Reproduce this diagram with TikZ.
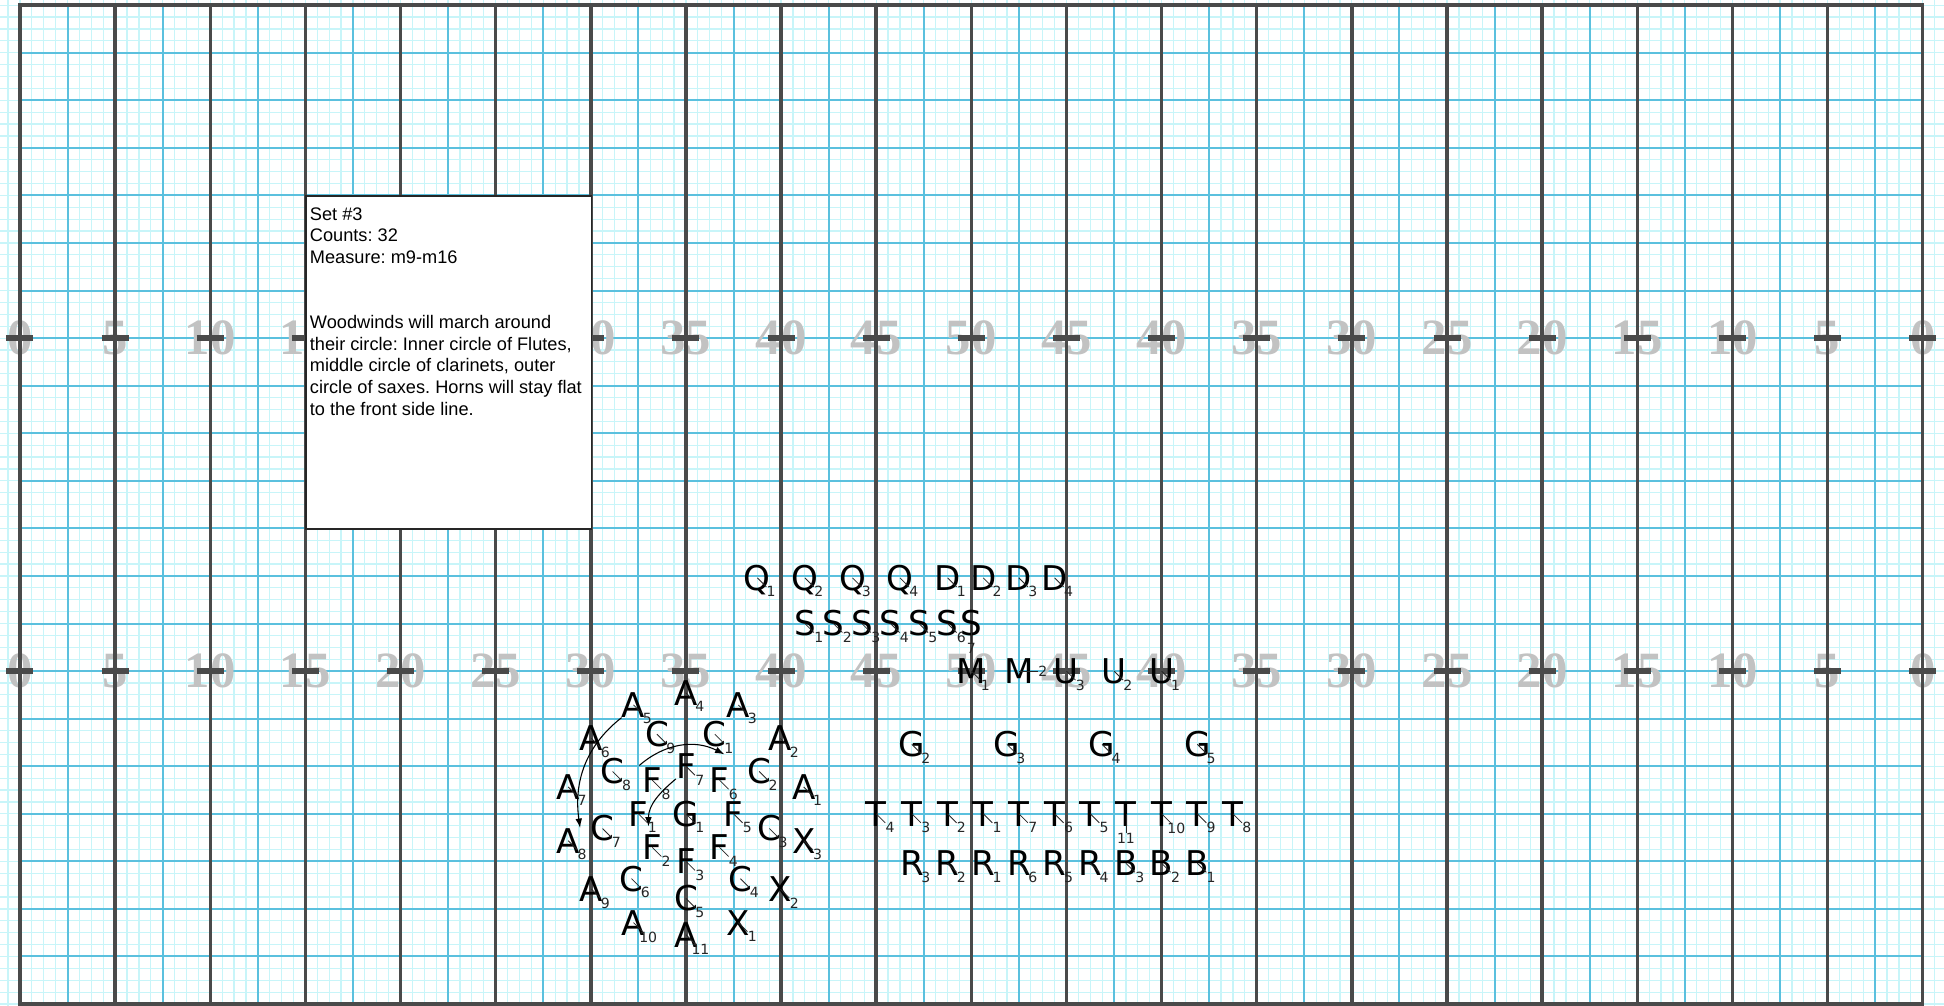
\documentclass[tikz,border=0pt]{standalone}
\usepackage{fontspec}
\usetikzlibrary{arrows.meta, calc}
\newfontfamily\mkfont{DejaVu Sans}
\newfontfamily\notefont{Liberation Sans}
\newfontfamily\numfont{Liberation Serif}
\definecolor{gridLight}{HTML}{C8F5F9}
\definecolor{gridBlue}{HTML}{5BC0DE}
\definecolor{fieldDark}{HTML}{4A4A4A}
\definecolor{numGray}{HTML}{C2C2C2}

\newcommand{\plr}[5][-45]{%
  \node[mk] (#2) at (#5) {#3};
  \pgfmathsetmacro\subang{#1+180}%
  \pgfmathsetmacro\facelen{1-0.33*abs(sin(2*(#1)))}%
  \draw[face] (#2.center) -- ++(#1:\facelen) node[sub, anchor=\subang] {#4};%
}

\begin{document}
\begin{tikzpicture}[x=0.5cm, y=0.5cm,
  minor/.style={gridLight, line width=0.9pt},
  major/.style={gridBlue, line width=1.5pt},
  yard/.style={fieldDark, line width=2.6pt},
  hash/.style={fieldDark, line width=4.8pt},
  num/.style={font=\numfont\bfseries\fontsize{38pt}{38pt}\selectfont, text=numGray, inner sep=0pt},
  mk/.style={font=\mkfont\fontsize{25.5pt}{25.5pt}\selectfont, inner sep=0pt, text height=18.6pt, text depth=0pt},
  sub/.style={font=\mkfont\fontsize{10.5pt}{10.5pt}\selectfont, inner sep=0pt},
  face/.style={black!85, line width=0.6pt},
  march/.style={-{Latex[length=7pt, width=5pt]}, black, line width=0.8pt},
  notebox/.style={draw=black!85, line width=1.1pt, fill=white,
                  minimum width=7.5cm, minimum height=8.75cm, inner sep=0pt},
  notetext/.style={font=\notefont\fontsize{13.6pt}{16.2pt}\selectfont\frenchspacing,
                   align=left, inner xsep=3.2pt, inner ysep=8.7pt}
]
\useasboundingbox (-1.05,-0.09) rectangle (101.12,52.77);
\fill[white] (-1.05,-0.09) rectangle (101.12,52.77);
\draw[minor] (-1.05,-0.09) grid[step=0.3125cm] (101.12,52.77);
\draw[major] (0,0) grid[step=1.25cm] (100,52.5);
\foreach \x in {0,5,...,100} {
  \pgfmathtruncatemacro\lbl{min(\x,100-\x)}
  \node[num] (top\x) at (\x,35) {\lbl};
  \node[num] (bot\x) at (\x,17.5) {\lbl};
}
\foreach \x in {0,5,...,100} {
  \draw[yard] (\x,0) -- (\x,52.5);
  \draw[hash] (\x-0.71,35) -- (\x+0.71,35);
  \draw[hash] (\x-0.71,17.5) -- (\x+0.71,17.5);
}
\draw[yard] (0,0) rectangle (100,52.5);

\node[notebox, anchor=north west] (note) at (15,42.5) {};
\node[notetext, anchor=north west] (notetxt) at (note.north west)
  {Set \#3\\Counts: 32\\Measure: m9-m16\\[32.4pt]Woodwinds will march around\\their circle: Inner circle of Flutes,\\middle circle of clarinets, outer\\circle of saxes. Horns will stay flat\\to the front side line.};

\plr{G1}{G}{1}{35,10}
\foreach \i in {1,...,8} {\plr{F\i}{F}{\i}{$(G1)+({45*(\i-5)}:2.5)$}}
\foreach \i in {1,...,9} {\plr{C\i}{C}{\i}{$(G1)+({110-40*\i}:4.45)$}}
\foreach \i in {1,...,11} {\plr{A\i}{A}{\i}{$(G1)+({12.857+25.714*(\i-1)}:6.35)$}}
\foreach \i in {1,2,3} {\plr{X\i}{X}{\i}{$(G1)+({12.857+25.714*(\i+10)}:6.35)$}}

\foreach \i in {1,...,4} {\plr{Q\i}{Q}{\i}{36.25+2.5*\i,22.4}}
\foreach \i in {1,...,4} {\plr{D\i}{D}{\i}{46.875+1.875*\i,22.4}}
\foreach \i in {1,...,6} {\plr{S\i}{S}{\i}{39.75+1.5*\i,20}}
\plr[-90]{S7}{S}{7}{50,20}
\plr{M1}{M}{1}{50,17.5}
\plr[0]{M2}{M}{2}{52.5,17.5}
\plr{U3}{U}{3}{55,17.5}
\plr{U2}{U}{2}{57.5,17.5}
\plr{U1}{U}{1}{60,17.5}
\foreach \i in {2,...,5} {\plr{G\i}{G}{\i}{36.875+5*\i,13.65}}
\foreach \n/\f [count=\k from 0] in {4/-45,3/-45,2/-45,1/-45,7/-45,6/-45,5/-45,11/-90,10/-45,9/-45,8/-45}
  {\plr[\f]{T\n}{T}{\n}{45+1.875*\k,10}}
\foreach \b/\n [count=\k from 0] in {R/3,R/2,R/1,R/6,R/5,R/4,B/3,B/2,B/1}
  {\plr{\b\n}{\b}{\n}{46.875+1.875*\k,7.4}}

\coordinate (clStart) at ($(G1)+(134:3.53)$);
\draw[march] (A5.south west) to[out=218, in=98] (A8.north east);
\draw[march] (clStart) to[out=41, in=153] ([shift={(-2pt,-5.5pt)}]C1.south east);
\draw[march] (F7.south west) to[out=220, in=90] (F1.south east);
\end{tikzpicture}
\end{document}
